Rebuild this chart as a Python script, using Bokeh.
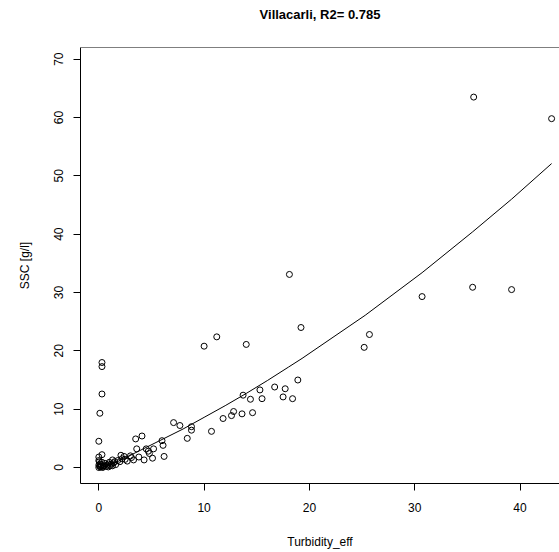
from bokeh.plotting import figure
from bokeh.models import FixedTicker, Span
from bokeh.embed import file_html
from bokeh.resources import INLINE

turbidity = [35.6, 43.0, 35.5, 39.2, 30.7, 25.7, 25.2, 18.1, 19.2, 11.2, 10.0, 14.0,
             0.3, 0.3, 0.3, 0.1, 0.0,
             18.9, 16.7, 17.7, 15.3, 13.7, 14.4, 15.5, 17.5, 18.4, 12.8, 11.8, 12.6, 13.6, 14.6, 10.7,
             7.1, 7.7, 8.8, 8.8, 8.4, 4.1, 3.5, 6.0, 6.1, 6.2, 5.1, 5.2, 4.7, 4.8, 4.5, 4.3,
             3.6, 3.1, 3.0, 3.8, 2.1, 2.4, 1.3, 0.9, 0.3, 0.0, 0.0,
             0.0, 0.1, 0.1, 0.2, 0.3, 0.4, 0.5, 0.6, 0.7, 0.8, 1.0, 1.2, 1.4, 1.5, 1.6, 1.8,
             2.0, 2.2, 2.5, 2.7, 3.3, 0.0, 0.2, 1.1, 0.05, 0.15, 0.35, 0.45, 0.9, 1.3]
ssc = [63.5, 59.8, 30.9, 30.5, 29.3, 22.8, 20.6, 33.1, 24.0, 22.4, 20.8, 21.1,
       18.0, 17.3, 12.6, 9.3, 4.5,
       15.0, 13.8, 13.5, 13.3, 12.4, 11.7, 11.8, 12.1, 11.8, 9.6, 8.4, 8.9, 9.2, 9.4, 6.2,
       7.7, 7.2, 7.0, 6.4, 5.0, 5.4, 4.9, 4.6, 3.8, 1.9, 1.6, 3.2, 2.8, 2.4, 3.2, 1.3,
       3.2, 1.7, 2.0, 1.8, 2.1, 1.9, 1.3, 0.1, 2.2, 1.8, 1.2,
       0.0, 0.2, 0.6, 0.5, 0.9, 0.1, 0.3, 0.7, 0.2, 0.4, 0.9, 0.6, 0.8, 1.0, 0.5, 1.2,
       1.0, 1.5, 1.4, 1.1, 1.3, 0.4, 0.2, 0.3, 1.0, 0.1, 0.0, 0.3, 0.6, 0.3]

# Fitted curve
fit_x = [0.0, 2.0, 4.0, 6.0, 8.0, 10.0, 12.0, 14.0, 16.0, 18.0, 19.3, 25.3, 30.7, 35.5, 39.2, 43.0]
fit_y = [-0.4, 1.2, 3.0, 4.8, 6.6, 8.6, 10.6, 12.7, 14.9, 17.2, 18.7, 26.1, 33.4, 40.4, 46.0, 52.1]

x_ticks = [0, 10, 20, 30, 40]
y_ticks = [0, 10, 20, 30, 40, 50, 60, 70]

FONT = "Liberation Sans"

p = figure(width=559, height=552, output_backend="svg", toolbar_location=None,
           x_range=(-1.74, 43.75), y_range=(-2.74, 72.0),
           title="Villacarli, R2= 0.785\n ",
           min_border_left=80, min_border_right=0, min_border_top=47, min_border_bottom=69)

p.title.align = "center"
p.title.text_font = FONT
p.title.text_font_size = "13px"
p.title.text_font_style = "bold"
p.title.text_color = "black"
p.title.text_line_height = 1.35
p.title.offset = 4

p.outline_line_color = None
p.xgrid.visible = False
p.ygrid.visible = False
p.background_fill_color = "white"
p.border_fill_color = "white"

for ax in (p.xaxis[0], p.yaxis[0]):
    ax.axis_line_color = "black"
    ax.axis_line_width = 1
    ax.major_tick_line_color = "black"
    ax.major_tick_out = 7
    ax.major_tick_in = 0
    ax.minor_tick_line_color = None
    ax.major_label_text_font = FONT
    ax.major_label_text_font_size = "12px"
    ax.major_label_text_color = "black"
    ax.axis_label_text_font = FONT
    ax.axis_label_text_font_size = "12px"
    ax.axis_label_text_font_style = "normal"
    ax.axis_label_text_color = "black"

p.xaxis.ticker = FixedTicker(ticks=x_ticks)
p.yaxis.ticker = FixedTicker(ticks=y_ticks)
p.xaxis.axis_label = "Turbidity_eff"
p.yaxis.axis_label = "SSC [g/l]"
p.xaxis.major_label_standoff = 12
p.yaxis.major_label_standoff = 10
p.xaxis.axis_label_standoff = 20
p.yaxis.axis_label_standoff = 20
p.yaxis.major_label_orientation = "vertical"

p.add_layout(Span(location=72.0, dimension="width", line_color="black", line_width=1))

p.line(fit_x, fit_y, line_color="black", line_width=1)
p.scatter(turbidity, ssc, marker="circle", size=6, fill_color=None,
          line_color="black", line_width=1)

open("out.html", "w").write(file_html(p, INLINE))
